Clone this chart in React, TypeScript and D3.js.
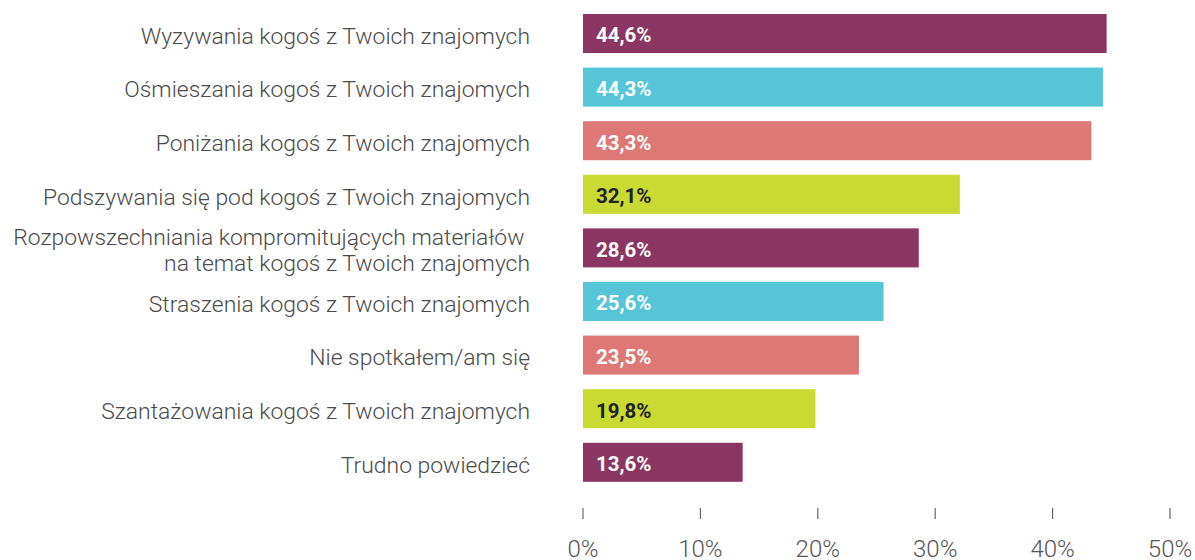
import React from "react";
import * as d3 from "d3";

const categories: string[][] = [
  ["Wyzywania kogoś z Twoich znajomych"],
  ["Ośmieszania kogoś z Twoich znajomych"],
  ["Poniżania kogoś z Twoich znajomych"],
  ["Podszywania się pod kogoś z Twoich znajomych"],
  ["Rozpowszechniania kompromitujących materiałów\u00a0", "na temat kogoś z Twoich znajomych"],
  ["Straszenia kogoś z Twoich znajomych"],
  ["Nie spotkałem/am się"],
  ["Szantażowania kogoś z Twoich znajomych"],
  ["Trudno powiedzieć"],
];
const values: number[] = [44.6, 44.3, 43.3, 32.1, 28.6, 25.6, 23.5, 19.8, 13.6];
const valueLabels: string[] = ["44,6%", "44,3%", "43,3%", "32,1%", "28,6%", "25,6%", "23,5%", "19,8%", "13,6%"];
const ticks: number[] = [0, 10, 20, 30, 40, 50];
const tickLabels: string[] = ["0%", "10%", "20%", "30%", "40%", "50%"];
const palette: string[] = ["#8B3563", "#55C5D7", "#DD7877", "#C9DA33"];
const labelColors: string[] = ["#ffffff", "#ffffff", "#ffffff", "#222222"];

export default function App() {
  const W = 1195;
  const H = 560;
  const x = d3.scaleLinear().domain([0, 50]).range([583, 1170]);
  const keys = categories.map((_, i) => String(i));
  const y = d3
    .scaleBand<string>()
    .domain(keys)
    .range([6.7, 489.1])
    .paddingInner(0.272)
    .paddingOuter(0.136);
  const bw = y.bandwidth();
  const font = "Roboto, 'Noto Sans', sans-serif";

  return (
    <svg
      width={W}
      height={H}
      style={{ position: "absolute", left: 0, top: 0, background: "#fff" }}
      fontFamily={font}
    >
      {values.map((v, i) => {
        const y0 = y(keys[i])!;
        const cy = y0 + bw / 2;
        const lines = categories[i];
        const lh = 26;
        return (
          <g key={i}>
            <rect x={x(0)} y={y0} width={x(v) - x(0)} height={bw} fill={palette[i % 4]} />
            <text
              x={x(0) + 13}
              y={cy + 1.5}
              dy="0.36em"
              fontSize={20.5}
              fontWeight={700}
              fill={labelColors[i % 4]}
            >
              {valueLabels[i]}
            </text>
            {lines.map((ln, j) => (
              <text
                key={j}
                x={530}
                y={cy + 2 + (j - (lines.length - 1) / 2) * lh}
                dy="0.36em"
                textAnchor="end"
                fontSize={22.9}
                fontWeight={300}
                fill="#4a4a4a"
                style={{ whiteSpace: "pre" }}
              >
                {ln}
              </text>
            ))}
          </g>
        );
      })}
      {ticks.map((t, i) => (
        <g key={t}>
          <line x1={x(t)} x2={x(t)} y1={508} y2={519} stroke="#666" strokeWidth={1.2} />
          <text
            x={x(t)}
            y={557}
            textAnchor="middle"
            fontSize={24}
            fontWeight={300}
            fill="#555"
          >
            {tickLabels[i]}
          </text>
        </g>
      ))}
    </svg>
  );
}
